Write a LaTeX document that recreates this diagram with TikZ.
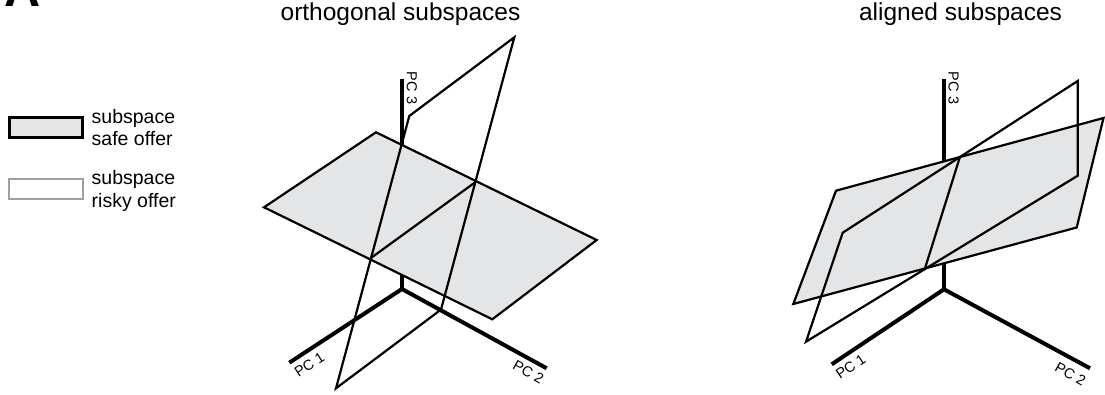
\documentclass[tikz,border=0pt]{standalone}
\usepackage{fontspec}
\setmainfont{Liberation Sans}
\definecolor{planegray}{RGB}{228,229,231}
\definecolor{legendgray}{RGB}{160,160,160}
\begin{document}
\begin{tikzpicture}[x=1pt,y=-1pt,
  axis/.style={line width=4pt},
  safeplane/.style={fill=planegray,draw=black,line width=2.2pt,line join=miter},
  riskyplane/.style={draw=black,line width=2.2pt,line join=miter},
  cutline/.style={draw=black,line width=2.2pt},
  titletext/.style={font=\fontsize{24.5}{28}\selectfont,anchor=base,inner sep=0pt},
  pclabel/.style={font=\fontsize{14.5}{16}\selectfont,inner sep=0pt},
  legtext/.style={font=\fontsize{19.5}{22}\selectfont,anchor=base west,inner sep=0pt},
  safebox/.style={draw=black,line width=2.7pt,fill=planegray},
  riskybox/.style={draw=legendgray,line width=2pt,fill=white},
  panelletter/.style={font=\fontsize{50}{56}\selectfont\bfseries,anchor=base west,inner sep=0pt},
]
\useasboundingbox (0,0) rectangle (1105,395);
\clip (0,0) rectangle (1105,395);

% panel letters (cut off)
\node[panelletter] (letA) at (4,6.5) {A};
\node[panelletter] (letB) at (7,430.5) {B};

% legend
\draw[safebox] (9.3,117.3) rectangle (82.7,137.7);
\node[legtext] (l1a) at (91.5,123.3) {subspace};
\node[legtext] (l1b) at (91.5,145.7) {safe offer};
\draw[riskybox] (9.3,179) rectangle (82.7,199.3);
\node[legtext] (l2a) at (91.5,185) {subspace};
\node[legtext] (l2b) at (91.5,207.3) {risky offer};

% ===== orthogonal panel =====
\node[titletext] (t1) at (400.5,20.7) {orthogonal subspaces};
\coordinate (o1) at (402,289);
\coordinate (o1z) at (402,79);
\coordinate (o1x) at (289.3,362.7);
\coordinate (o1y) at (546.7,368.3);
\draw[axis] (o1z) -- (o1);
\draw[axis,line join=miter] (o1x) -- (o1) -- (o1y);
\node[pclabel,rotate=-90] (pc3a) at (411.8,88) {PC 3};
\node[pclabel,rotate=33] (pc1a) at (309.3,364.5) {PC 1};
\node[pclabel,rotate=-29] (pc2a) at (528.5,372) {PC 2};

\coordinate (s1) at (376,132.3);
\coordinate (s2) at (596.7,240);
\coordinate (s3) at (492.3,319.3);
\coordinate (s4) at (264,207.3);
\draw[safeplane] (s1) -- (s2) -- (s3) -- (s4) -- cycle;

\coordinate (r1) at (514.3,37.3);
\coordinate (r2) at (409.3,116);
\coordinate (r3) at (336,388.3);
\coordinate (r4) at (441,309.6);
\draw[riskyplane] (r1) -- (r2) -- (r3) -- (r4) -- cycle;
\coordinate (c1) at (370.5,258.3);
\coordinate (c2) at (476,181.7);
\draw[cutline] (c1) -- (c2);

% ===== aligned panel =====
\node[titletext] (t2) at (960.5,20.7) {aligned subspaces};
\coordinate (o2) at (944,289.3);
\coordinate (o2z) at (944,79);
\coordinate (o2x) at (831.7,364.3);
\coordinate (o2y) at (1090,368.3);
\draw[axis] (o2z) -- (o2);
\draw[axis,line join=miter] (o2x) -- (o2) -- (o2y);
\node[pclabel,rotate=-90] (pc3b) at (953.5,88) {PC 3};
\node[pclabel,rotate=34] (pc1b) at (850.7,366.5) {PC 1};
\node[pclabel,rotate=-29] (pc2b) at (1070.5,374) {PC 2};

\coordinate (a1) at (836,190.7);
\coordinate (a2) at (1103.5,118);
\coordinate (a3) at (1076.7,227.5);
\coordinate (a4) at (793.3,304);
\draw[safeplane] (a1) -- (a2) -- (a3) -- (a4) -- cycle;

\coordinate (b1) at (1077.7,81);
\coordinate (b2) at (1077.7,175.7);
\coordinate (b3) at (806,341.7);
\coordinate (b4) at (842.7,232.7);
\draw[riskyplane] (b1) -- (b2) -- (b3) -- (b4) -- cycle;
\coordinate (d1) at (960,156.7);
\coordinate (d2) at (925,268.3);
\draw[cutline] (d1) -- (d2);
\end{tikzpicture}
\end{document}
